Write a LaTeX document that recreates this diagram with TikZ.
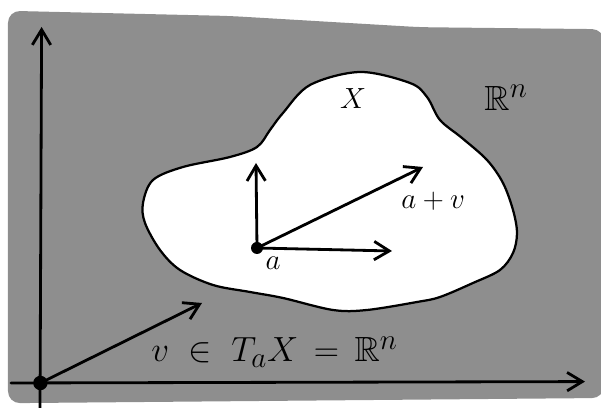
\documentclass[tikz,border=0pt]{standalone}
\usepackage{amssymb}
\usetikzlibrary{arrows.meta}
\definecolor{paper}{gray}{0.557}

\begin{document}
\begin{tikzpicture}[line width=2pt, line cap=round, line join=round,
    >={Straight Barb[length=3.8mm,width=4.6mm]},
    vec/.style={->},
    dot/.style={circle, fill, inner sep=0pt, minimum size=#1},
    lab/.style={inner sep=0pt}]
  \useasboundingbox (0,0) rectangle (15.025,10.2);
  % the space R^n
  \fill[paper, rounded corners=0.3cm] (0.2,0.12) -- (0.2,9.93) -- (5.75,9.8)
    -- (10.5,9.52) -- (15.1,9.47) -- (15.1,0.25) -- cycle;
  % the set X
  \draw[fill=white, line width=1.6pt] plot[smooth cycle, tension=0.55] coordinates {
    (9.0,8.4) (10.25,8.125) (10.675,7.775) (11.0,7.2) (11.55,6.75) (12.175,6.2)
    (12.575,5.625) (12.825,4.95) (12.925,4.375) (12.825,3.875) (12.5,3.45)
    (11.825,3.125) (11.0,2.775) (10.425,2.65) (9.175,2.45) (8.325,2.45)
    (7.075,2.75) (6.25,2.9) (5.325,3.075) (4.5,3.45) (4.0,3.95) (3.625,4.625)
    (3.575,5.125) (3.825,5.7) (4.575,6.025) (5.75,6.275) (6.425,6.525)
    (6.75,6.95) (7.075,7.375) (7.75,8.075)};
  % axes
  \coordinate (xl) at (0.275,0.625);
  \coordinate (xr) at (14.625,0.66);
  \coordinate (yb) at (1.0,-0.1);
  \coordinate (yt) at (1.04,9.525);
  \draw[vec] (xl) -- (xr);
  \draw[vec] (yb) -- (yt);
  \node[dot=0.36cm] (O) at (1.01,0.625) {};
  \coordinate (vtip) at (5.05,2.625);
  \draw[vec] (O.center) -- (vtip);
  % tangent vectors at a
  \node[dot=0.3cm] (a) at (6.425,4.0) {};
  \coordinate (up) at (6.4,6.125);
  \coordinate (right) at (9.8,3.925);
  \coordinate (apvtip) at (10.575,6.025);
  \draw[vec] (a.center) -- (up);
  \draw[vec] (a.center) -- (right);
  \draw[vec] (a.center) -- (apvtip);
  % labels
  \node[lab] (alab) at (6.825,3.625) {\huge$a$};
  \node[lab] (apv) at (10.83,5.175) {\huge$a+v$};
  \node[lab] (X) at (8.825,7.725) {\huge$X$};
  \node[lab] (Rn) at (12.65,7.75) {\Huge$\mathbb{R}^n$};
  \node[lab, anchor=base west] (tan) at (3.75,1.15)
    {\Huge$v\;\in\;T_a X\,=\,\mathbb{R}^n$};
\end{tikzpicture}
\end{document}
